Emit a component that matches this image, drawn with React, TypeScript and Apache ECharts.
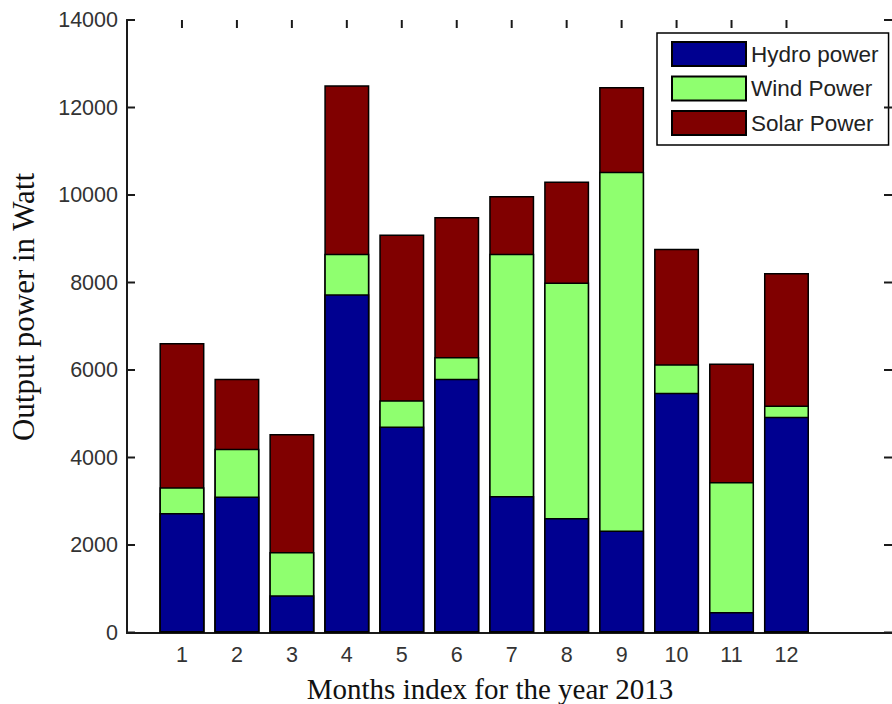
import React, { useEffect, useRef } from "react";
import * as echarts from "echarts";

const months = [1, 2, 3, 4, 5, 6, 7, 8, 9, 10, 11, 12];
const hydro = [2730, 3110, 850, 7730, 4710, 5800, 3120, 2620, 2330, 5480, 470, 4930];
const wind = [590, 1090, 990, 930, 600, 500, 5540, 5380, 8200, 650, 2970, 260];
const solar = [3300, 1600, 2700, 3850, 3790, 3200, 1320, 2310, 1940, 2640, 2710, 3030];
const yTicks = [0, 2000, 4000, 6000, 8000, 10000, 12000, 14000];

const AXIS = "#1a1a1a";
const X_MAX = 13.92;
const Y_MAX = 14000;
const TICK_LEN = 8;

export default function App() {
  const ref = useRef<HTMLDivElement>(null);
  useEffect(() => {
    if (!ref.current) return;
    const chart = echarts.init(ref.current, null, { renderer: "svg" });
    // cumulative tops of each stacked segment (drawn back to front)
    const hydroTop = hydro.map((h) => h);
    const windTop = hydro.map((h, i) => h + wind[i]);
    const solarTop = hydro.map((h, i) => h + wind[i] + solar[i]);
    const mk = (name: string, vals: number[], color: string, z: number) => ({
      name,
      type: "bar",
      barWidth: 45,
      barGap: "-100%",
      z,
      data: months.map((m, i) => [m, vals[i]]),
      itemStyle: { color, borderColor: "#000", borderWidth: 1.5 },
    });
    const titles = [
      {
        type: "text",
        x: 490,
        y: 689,
        style: {
          text: "Months index for the year 2013",
          fontFamily: "Liberation Serif, Times New Roman",
          fontSize: 29,
          fill: "#111",
          textAlign: "center",
          textVerticalAlign: "middle",
        },
      },
      {
        type: "text",
        x: 23,
        y: 307,
        rotation: Math.PI / 2,
        style: {
          text: "Output power in Watt",
          fontFamily: "Liberation Serif, Times New Roman",
          fontSize: 31,
          fill: "#111",
          textAlign: "center",
          textVerticalAlign: "middle",
        },
      },
    ];
    chart.setOption({
      animation: false,
      backgroundColor: "#fff",
      grid: { left: 127, top: 20, right: -5, bottom: 71.5, containLabel: false },
      legend: {
        orient: "vertical",
        left: 657,
        top: 33,
        padding: [8, 10, 9, 14],
        itemWidth: 74,
        itemHeight: 24,
        itemGap: 8.5,
        itemTextGap: 6,
        icon: "rect",
        borderColor: "#000",
        borderWidth: 1.5,
        backgroundColor: "#fff",
        textStyle: { fontFamily: "Liberation Sans, Arial", fontSize: 22.5, lineHeight: 24, color: "#222" },
        data: ["Hydro power", "Wind Power", "Solar Power"],
      },
      xAxis: [
        {
          type: "value",
          min: 0,
          max: X_MAX,
          interval: 1,
          position: "bottom",
          splitLine: { show: false },
          axisLine: { show: true, onZero: false, lineStyle: { color: AXIS, width: 2 } },
          axisTick: { show: false },
          axisLabel: {
            customValues: months,
            formatter: (v: number) => String(v),
            fontFamily: "Liberation Sans, Arial",
            fontSize: 21.5,
            color: "#333",
            margin: 11,
          },
        },
        {
          type: "value",
          min: 0,
          max: X_MAX,
          interval: 1,
          position: "top",
          splitLine: { show: false },
          axisLine: { show: true, lineStyle: { color: AXIS, width: 2 } },
          axisTick: { show: false },
          axisLabel: { show: false },
        },
      ],
      yAxis: [
        {
          type: "value",
          min: 0,
          max: Y_MAX,
          interval: 2000,
          position: "left",
          splitLine: { show: false },
          axisLine: { show: true, lineStyle: { color: AXIS, width: 2 } },
          axisTick: { show: false },
          axisLabel: {
            customValues: yTicks,
            formatter: (v: number) => String(v),
            fontFamily: "Liberation Sans, Arial",
            fontSize: 21.5,
            color: "#333",
            margin: 9,
          },
        },
        {
          type: "value",
          min: 0,
          max: Y_MAX,
          interval: 2000,
          position: "right",
          splitLine: { show: false },
          axisLine: { show: true, lineStyle: { color: AXIS, width: 2 } },
          axisTick: { show: false },
          axisLabel: { show: false },
        },
      ],
      graphic: titles,
      series: [
        mk("Solar Power", solarTop, "#800000", 2),
        mk("Wind Power", windTop, "#8FFF6F", 3),
        mk("Hydro power", hydroTop, "#000090", 4),
      ],
    });

    // inward-pointing MATLAB-style ticks, placed through the axes' own scales
    const px = (x: number, y: number) => chart.convertToPixel({ gridIndex: 0 }, [x, y]) as number[];
    const [xl, yb] = px(0, 0);
    const [xr, yt] = px(X_MAX, Y_MAX);
    const ln = (x1: number, y1: number, x2: number, y2: number) => ({
      type: "line",
      z: 10,
      silent: true,
      shape: { x1, y1, x2, y2 },
      style: { stroke: AXIS, lineWidth: 2 },
    });
    const ticks: any[] = [];
    yTicks.forEach((v) => {
      const y = px(0, v)[1];
      ticks.push(ln(xl, y, xl + TICK_LEN, y));
      ticks.push(ln(xr, y, xr - TICK_LEN, y));
    });
    months.forEach((m) => {
      const x = px(m, 0)[0];
      ticks.push(ln(x, yt, x, yt + TICK_LEN));
    });
    void yb;
    chart.setOption({ graphic: [...titles, ...ticks] });
    return () => chart.dispose();
  }, []);
  return (
    <div
      ref={ref}
      style={{ position: "fixed", left: 0, top: 0, width: 892, height: 704 }}
    />
  );
}
